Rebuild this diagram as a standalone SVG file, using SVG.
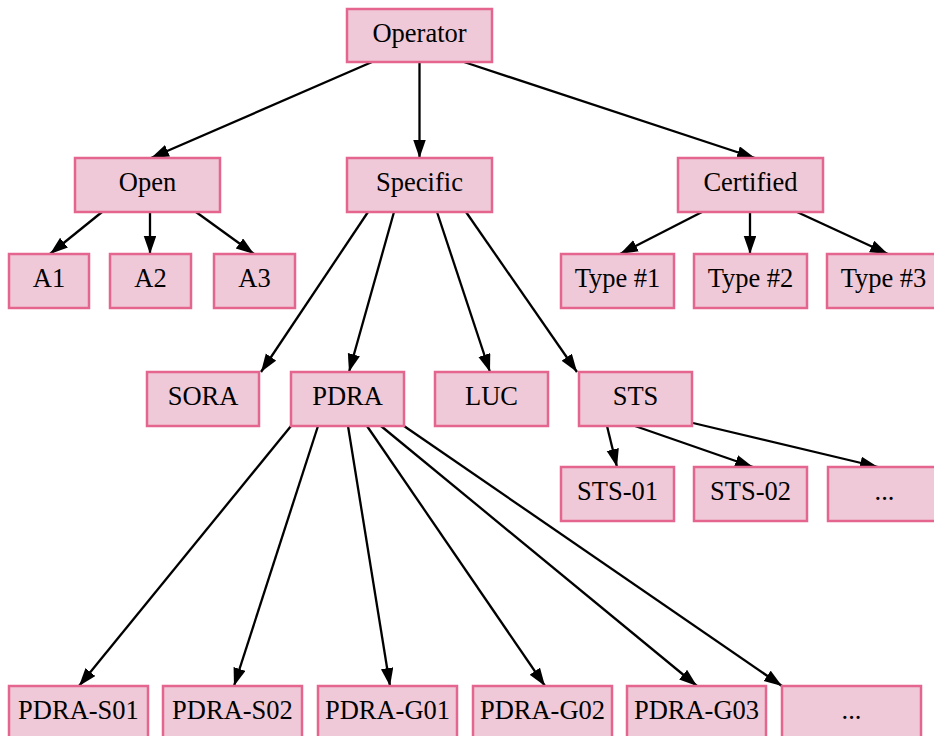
<svg xmlns="http://www.w3.org/2000/svg" width="934" height="736" viewBox="0 0 934 736">
  <style>
    .node rect { fill: #efc9d7; stroke: #e4668f; stroke-width: 2.5; }
    .node text { font-family: "Liberation Serif", "Times New Roman", serif; font-size: 26.5px; fill: #000; text-anchor: middle; }
    .edges line { stroke: #000; stroke-width: 2.3; marker-end: url(#arrow); }
  </style>
  <defs>
    <marker id="arrow" markerUnits="userSpaceOnUse" markerWidth="20" markerHeight="14" refX="18" refY="6.25" orient="auto">
      <path d="M0,0 L18,6.25 L0,12.5 z" fill="#000"/>
    </marker>
  </defs>
  <rect width="934" height="736" fill="#fff"/>

  <!-- connectors -->
  <g id="edges" class="edges">
    <line x1="372" y1="62" x2="151" y2="158"/>
    <line x1="419.5" y1="62" x2="419.5" y2="158"/>
    <line x1="464" y1="62" x2="755" y2="158"/>
    <line x1="102" y1="212" x2="50" y2="254"/>
    <line x1="150" y1="212" x2="150" y2="254"/>
    <line x1="196" y1="212" x2="254" y2="254"/>
    <line x1="702" y1="212" x2="620" y2="254"/>
    <line x1="750" y1="212" x2="750" y2="254"/>
    <line x1="797" y1="212" x2="888" y2="254"/>
    <line x1="368" y1="212" x2="261" y2="372"/>
    <line x1="394" y1="212" x2="349" y2="372"/>
    <line x1="437" y1="212" x2="490" y2="372"/>
    <line x1="466" y1="212" x2="577" y2="372"/>
    <line x1="607" y1="426" x2="617" y2="467"/>
    <line x1="635" y1="426" x2="753" y2="467"/>
    <line x1="693" y1="423" x2="878" y2="467"/>
    <line x1="291" y1="426" x2="79" y2="686"/>
    <line x1="318" y1="426" x2="234" y2="686"/>
    <line x1="348" y1="426" x2="390" y2="686"/>
    <line x1="367" y1="426" x2="545" y2="686"/>
    <line x1="381" y1="426" x2="697" y2="686"/>
    <line x1="404" y1="426" x2="782" y2="686"/>
  </g>

  <!-- nodes -->
  <g id="operator" class="node"><rect x="347" y="9" width="145" height="53"/><text x="419.5" y="42">Operator</text></g>

  <g id="open" class="node"><rect x="75" y="158" width="145" height="54"/><text x="147.5" y="191">Open</text></g>
  <g id="specific" class="node"><rect x="347" y="158" width="145" height="54"/><text x="419.5" y="191">Specific</text></g>
  <g id="certified" class="node"><rect x="678" y="158" width="145" height="54"/><text x="750.5" y="191">Certified</text></g>

  <g id="a1" class="node"><rect x="9" y="254" width="80" height="54"/><text x="49" y="287">A1</text></g>
  <g id="a2" class="node"><rect x="110" y="254" width="81" height="54"/><text x="150.5" y="287">A2</text></g>
  <g id="a3" class="node"><rect x="214" y="254" width="81" height="54"/><text x="254.5" y="287">A3</text></g>

  <g id="type1" class="node"><rect x="561" y="254" width="113" height="54"/><text x="617.5" y="287">Type #1</text></g>
  <g id="type2" class="node"><rect x="694" y="254" width="113" height="54"/><text x="750.5" y="287">Type #2</text></g>
  <g id="type3" class="node"><rect x="827" y="254" width="113" height="54"/><text x="883.5" y="287">Type #3</text></g>

  <g id="sora" class="node"><rect x="147" y="372" width="112" height="54"/><text x="203" y="405">SORA</text></g>
  <g id="pdra" class="node"><rect x="291" y="372" width="113" height="54"/><text x="347.5" y="405">PDRA</text></g>
  <g id="luc" class="node"><rect x="435" y="372" width="113" height="54"/><text x="491.5" y="405">LUC</text></g>
  <g id="sts" class="node"><rect x="579" y="372" width="113" height="54"/><text x="635.5" y="405">STS</text></g>

  <g id="sts-01" class="node"><rect x="561" y="467" width="113" height="54"/><text x="617.5" y="500">STS-01</text></g>
  <g id="sts-02" class="node"><rect x="694" y="467" width="113" height="54"/><text x="750.5" y="500">STS-02</text></g>
  <g id="sts-more" class="node"><rect x="828" y="467" width="113" height="54"/><text x="884.5" y="500">...</text></g>

  <g id="pdra-s01" class="node"><rect x="9" y="686" width="139" height="54"/><text x="78.5" y="719">PDRA-S01</text></g>
  <g id="pdra-s02" class="node"><rect x="163" y="686" width="139" height="54"/><text x="232.5" y="719">PDRA-S02</text></g>
  <g id="pdra-g01" class="node"><rect x="318" y="686" width="139" height="54"/><text x="387.5" y="719">PDRA-G01</text></g>
  <g id="pdra-g02" class="node"><rect x="473" y="686" width="139" height="54"/><text x="542.5" y="719">PDRA-G02</text></g>
  <g id="pdra-g03" class="node"><rect x="627" y="686" width="139" height="54"/><text x="696.5" y="719">PDRA-G03</text></g>
  <g id="pdra-more" class="node"><rect x="782" y="686" width="139" height="54"/><text x="851.5" y="719">...</text></g>
</svg>
